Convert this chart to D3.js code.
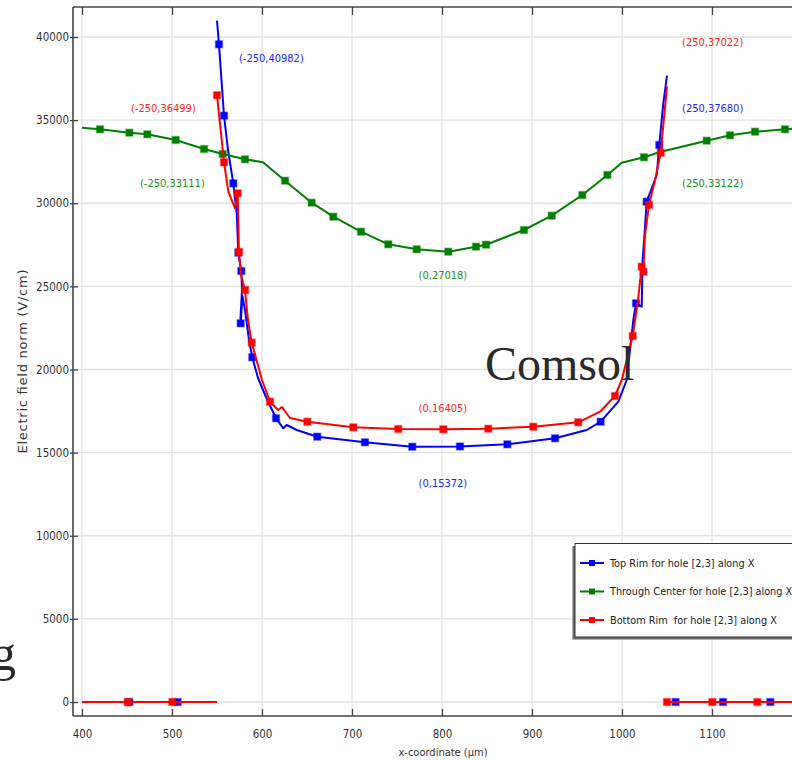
<!DOCTYPE html>
<html>
<head>
<meta charset="utf-8">
<script src="https://cdn.jsdelivr.net/npm/d3@7/dist/d3.min.js"></script>
<style>
  body { margin: 0; background: #fff; }
  svg { display: block; }
  text { font-family: 'DejaVu Sans Condensed', 'DejaVu Sans', sans-serif; font-stretch: condensed; }
</style>
</head>
<body>
<div id="chart"></div>
<script>
// tick values
const xTicks = [400, 500, 600, 700, 800, 900, 1000, 1100]
const yTicks = [0, 5000, 10000, 15000, 20000, 25000, 30000, 35000, 40000]

const seriesNames = [
  'Top Rim for hole [2,3] along X',
  'Through Center for hole [2,3] along X',
  'Bottom Rim  for hole [2,3] along X',
]

// [x (µm), E (V/cm)], null = break in the curve
const topRimLine = [
  [400, 0], [452.6, 0], [506.3, 0], [550, 0], [550, null],
  [550, 40982], [552.2, 39561], [557.8, 35266], [562.2, 33203], [568.1, 31200], [571.9, 29413],
  [573.7, 27026], [577, 25925], [577.8, 24782], [576.1, 23098], [576.3, 22779], [578.3, 24421],
  [581.1, 23579], [585.6, 21774], [589.2, 20734], [595.6, 19489], [604.4, 18346], [615.6, 17065],
  [623.7, 16463], [627.4, 16662], [638.6, 16361], [661.4, 15958], [714.4, 15621], [767, 15356],
  [820, 15372], [872.6, 15501], [925.6, 15862], [960.8, 16361], [976.3, 16860], [995.9, 18063],
  [1005.2, 19368], [1012.6, 22977], [1015.6, 23982], [1021.9, 23777], [1022.9, 26586],
  [1024.8, 27988], [1027.4, 30093], [1038.6, 31699], [1041.4, 33504], [1045.9, 36012], [1050, 37680],
  [1050, null],
  [1050, 0], [1059.6, 0], [1112.2, 0], [1164.8, 0], [1200, 0],
]
const topRimMarks = [
  [452.6, 0], [506.3, 0], [552.2, 39561], [557.8, 35266], [568.1, 31200], [573.7, 27026],
  [577, 25925], [576.3, 22779], [589.2, 20734], [615.6, 17065], [661.4, 15958], [714.4, 15621],
  [767, 15356], [820, 15372], [872.6, 15501], [925.6, 15862], [976.3, 16860], [1015.6, 23982],
  [1027.4, 30093], [1041.4, 33504], [1059.6, 0], [1112.2, 0], [1164.8, 0],
]

const centerLine = [
  [400, 34545], [420, 34448], [452.6, 34244], [472.6, 34147], [504.1, 33805], [535.6, 33263],
  [556.3, 32962], [581.1, 32644], [601.1, 32463], [625.6, 31356], [655.2, 30033], [679.2, 29191],
  [710, 28289], [740.3, 27531], [771.9, 27230], [807, 27086], [837.8, 27387], [848.9, 27507],
  [891.1, 28391], [921.9, 29251], [955.9, 30496], [983.7, 31699], [999.7, 32439], [1024.4, 32764],
  [1042.2, 33083], [1094.1, 33763], [1120, 34087], [1147.8, 34303], [1181.1, 34448], [1200, 34545],
]
const centerMarks = [
  [420, 34448], [452.6, 34244], [472.6, 34147], [504.1, 33805], [535.6, 33263], [556.3, 32962],
  [581.1, 32644], [625.6, 31356], [655.2, 30033], [679.2, 29191], [710, 28289], [740.3, 27531],
  [771.9, 27230], [807, 27086], [837.8, 27387], [848.9, 27507], [891.1, 28391], [921.9, 29251],
  [955.9, 30496], [983.7, 31699], [1024.4, 32764], [1094.1, 33763], [1120, 34087], [1147.8, 34303],
  [1181.1, 34448],
]

const bottomRimLine = [
  [400, 0], [450.7, 0], [500.4, 0], [550, 0], [550, null],
  [550, 36499], [553.3, 34809], [557.8, 32463], [562.6, 30695], [570, 29696], [573, 30598],
  [574.4, 27068], [576.7, 25684], [581.1, 24782], [584.4, 22977], [588.6, 21612], [600, 19368],
  [608.9, 18063], [617.8, 17564], [622.2, 17744], [631.1, 17083], [650.3, 16860], [701.4, 16523],
  [751.4, 16421], [801.4, 16405], [851.4, 16439], [901.4, 16559], [951.4, 16824], [975.6, 17462],
  [992.2, 18406], [999.7, 19368], [1011.9, 22015], [1017.8, 24180], [1021.9, 26183], [1023.7, 25883],
  [1025.6, 28090], [1030, 29895], [1036.7, 31398], [1043, 33040], [1050, 37022],
  [1050, null],
  [1050, 0], [1100.4, 0], [1150.4, 0], [1200, 0],
]
const bottomRimMarks = [
  [450.7, 0], [500.4, 0], [550, 36499], [557.8, 32463], [573, 30598], [574.4, 27068],
  [581.1, 24782], [588.6, 21612], [608.9, 18063], [650.3, 16860], [701.4, 16523], [751.4, 16421],
  [801.4, 16405], [851.4, 16439], [901.4, 16559], [951.4, 16824], [992.2, 18406], [1011.9, 22015],
  [1021.9, 26183], [1023.7, 25883], [1030, 29895], [1043, 33040], [1050, 0], [1100.4, 0], [1150.4, 0],
]

// point labels: text, x, E, series index
const annoText = ['(-250,40982)', '(-250,36499)', '(-250,33111)', '(250,37022)', '(250,37680)',
  '(250,33122)', '(0,27018)', '(0,16405)', '(0,15372)']
const annoX = [574.4, 454.4, 464.4, 1066.7, 1066.7, 1066.7, 801, 801, 801]
const annoY = [38737, 35729, 31218, 39699, 35729, 31218, 25684, 17684, 13173]
const annoSeries = [0, 2, 1, 2, 0, 1, 1, 2, 0]

const W = 792
const H = 760
const frame = { TOP: 7, BOTTOM: 716, LEFT: 73 }
const colors = ['#0000ff', '#007f00', '#ff0000']
const labelColors = ['#2424ff', '#1f8a1f', '#ff2424']

const svg = d3.select('#chart').append('svg').attr('width', W).attr('height', H)

const x = d3.scaleLinear().domain([390, 1200]).range([73, 802])
const y = d3.scaleLinear().domain([0, 40000]).range([702, 37])

// grid
svg.append('g')
  .selectAll('line')
  .data(xTicks)
  .join('line')
  .attr('x1', d => x(d)).attr('x2', d => x(d))
  .attr('y1', frame.TOP).attr('y2', frame.BOTTOM)
  .attr('stroke', '#e2e2e2').attr('stroke-width', 1.3)

svg.append('g')
  .selectAll('line')
  .data(yTicks)
  .join('line')
  .attr('x1', frame.LEFT).attr('x2', W)
  .attr('y1', d => y(d)).attr('y2', d => y(d))
  .attr('stroke', '#e2e2e2').attr('stroke-width', 1.3)

// axes
const styleAxis = g => {
  g.select('.domain').remove()
  g.attr('font-family', null).attr('font-size', null)
  g.selectAll('line').attr('stroke', '#444').attr('stroke-width', 1.3)
  g.selectAll('text').attr('fill', '#333').style('font-size', '11.5px')
}

svg.append('g')
  .attr('transform', `translate(0, ${frame.BOTTOM})`)
  .call(d3.axisBottom(x).tickValues(xTicks).tickSize(-7).tickPadding(14).tickFormat(d3.format('d')))
  .call(styleAxis)

svg.append('g')
  .attr('transform', `translate(0, ${frame.TOP})`)
  .call(d3.axisTop(x).tickValues(xTicks).tickSize(-8).tickFormat(''))
  .call(styleAxis)

svg.append('g')
  .attr('transform', `translate(${frame.LEFT}, 0)`)
  .call(d3.axisLeft(y).tickValues(yTicks).tickSize(3).tickPadding(1).tickFormat(d3.format('d')))
  .call(styleAxis)

svg.append('g')
  .attr('transform', `translate(${frame.LEFT}, 0)`)
  .call(d3.axisLeft(y).tickValues(yTicks).tickSize(-5).tickFormat(''))
  .call(styleAxis)

// frame
const frameLines = [
  [frame.LEFT, frame.TOP, W, frame.TOP],
  [frame.LEFT, frame.TOP, frame.LEFT, frame.BOTTOM],
  [frame.LEFT, frame.BOTTOM, W, frame.BOTTOM],
]
svg.append('g')
  .selectAll('line')
  .data(frameLines)
  .join('line')
  .attr('x1', d => d[0]).attr('y1', d => d[1]).attr('x2', d => d[2]).attr('y2', d => d[3])
  .attr('stroke', '#444').attr('stroke-width', 1.6)

// axis titles
svg.append('text')
  .attr('x', 443).attr('y', 756)
  .attr('text-anchor', 'middle')
  .attr('fill', '#333')
  .style('font-size', '11px')
  .text('x-coordinate (µm)')

svg.append('text')
  .attr('transform', `translate(27, ${(frame.TOP + frame.BOTTOM) / 2}) rotate(-90)`)
  .attr('text-anchor', 'middle')
  .attr('fill', '#333')
  .attr('textLength', 184)
  .attr('lengthAdjust', 'spacing')
  .style('font-family', "'DejaVu Sans', sans-serif")
  .style('font-stretch', 'normal')
  .style('font-size', '13px')
  .text('Electric field norm (V/cm)')

// curves
const line = d3.line()
  .defined(d => d[1] != null)
  .x(d => x(d[0]))
  .y(d => y(d[1]))

const series = [
  { line: topRimLine, marks: topRimMarks },
  { line: centerLine, marks: centerMarks },
  { line: bottomRimLine, marks: bottomRimMarks },
]

series.forEach((s, i) => {
  const g = svg.append('g')
  g.append('path')
    .attr('d', line(s.line))
    .attr('fill', 'none')
    .attr('stroke', colors[i])
    .attr('stroke-width', 2)
    .attr('stroke-linejoin', 'round')
  g.selectAll('rect')
    .data(s.marks)
    .join('rect')
    .attr('x', d => x(d[0]) - 3.5)
    .attr('y', d => y(d[1]) - 3.5)
    .attr('width', 7)
    .attr('height', 7)
    .attr('fill', colors[i])
    .attr('stroke', colors[i])
    .attr('stroke-opacity', 0.35)
    .attr('stroke-width', 1.5)
})

// point labels
svg.append('g')
  .selectAll('text')
  .data(annoText)
  .join('text')
  .attr('x', (d, i) => x(annoX[i]))
  .attr('y', (d, i) => y(annoY[i]))
  .attr('dy', '0.35em')
  .attr('text-anchor', (d, i) => (annoX[i] === 801 ? 'middle' : 'start'))
  .attr('fill', (d, i) => labelColors[annoSeries[i]])
  .style('font-size', '11px')
  .text(d => d)

// legend
const legend = { LEFT: 575, TOP: 543.5, WIDTH: 240, HEIGHT: 93.5 }
svg.append('rect')
  .attr('x', legend.LEFT - 2.5).attr('y', legend.TOP + 2.5)
  .attr('width', legend.WIDTH).attr('height', legend.HEIGHT)
  .attr('fill', '#6a6a6a')
svg.append('rect')
  .attr('x', legend.LEFT).attr('y', legend.TOP)
  .attr('width', legend.WIDTH).attr('height', legend.HEIGHT)
  .attr('fill', '#fff').attr('stroke', '#333').attr('stroke-width', 1)

const rows = svg.append('g')
  .selectAll('g')
  .data(seriesNames)
  .join('g')
  .attr('transform', (d, i) => `translate(${legend.LEFT + 5}, ${legend.TOP + 19.5 + i * 28.5})`)

rows.append('line')
  .attr('x1', 0).attr('x2', 24)
  .attr('stroke', (d, i) => colors[i]).attr('stroke-width', 2)
rows.append('rect')
  .attr('x', 9).attr('y', -3).attr('width', 6).attr('height', 6)
  .attr('fill', (d, i) => colors[i])
rows.append('text')
  .attr('x', 30).attr('dy', '0.35em')
  .attr('fill', '#222')
  .style('font-size', '10.8px')
  .style('white-space', 'pre')
  .text(d => d)

// overlaid page text
svg.append('text')
  .attr('x', 485).attr('y', 380)
  .attr('fill', '#2a2a2a')
  .style('font-family', "'Liberation Serif', 'Times New Roman', serif")
  .style('font-stretch', 'normal')
  .style('font-size', '48px')
  .text('Comsol')

svg.append('text')
  .attr('x', -9).attr('y', 670)
  .attr('fill', '#2a2a2a')
  .style('font-family', "'Liberation Serif', 'Times New Roman', serif")
  .style('font-stretch', 'normal')
  .style('font-size', '50px')
  .text('g')
</script>
</body>
</html>
